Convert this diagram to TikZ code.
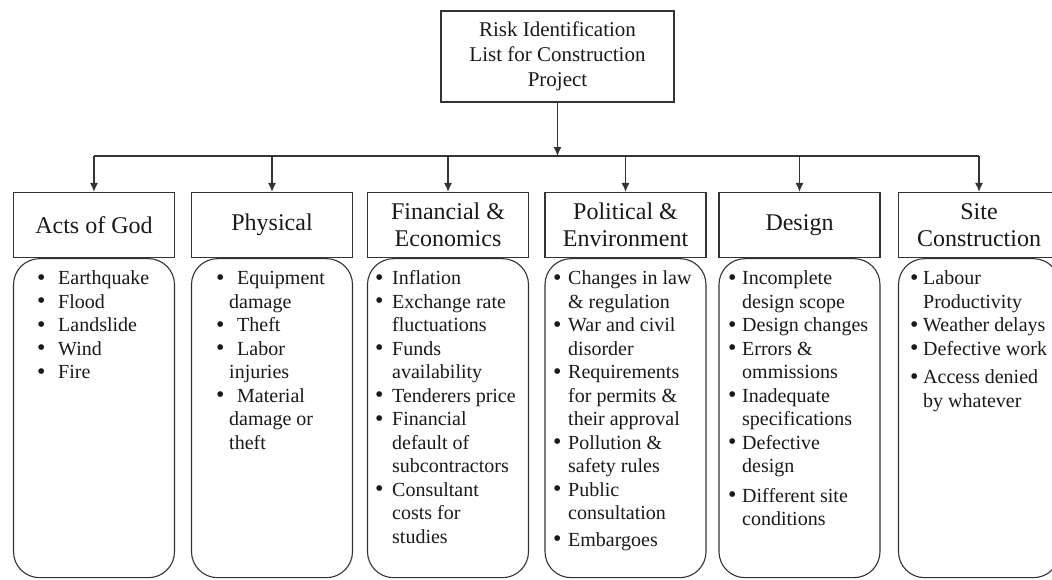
\documentclass[tikz,border=0pt]{standalone}
\usepackage{fontspec}
\usepackage{graphicx}
\setmainfont{Liberation Serif}
\usetikzlibrary{arrows.meta}

\tikzset{
  conn/.style={draw=black!80, line width=1.2pt},
  tip/.style={-{Latex[length=9pt,width=8pt]}},
  root/.style={draw=black!80, line width=1.2pt, minimum width=233pt, minimum height=91pt,
    align=center, inner sep=0pt, text=black!90, font=\fontsize{21}{25}\selectfont},
  hdr/.style={draw=black!80, line width=1.2pt, minimum width=161pt, minimum height=65pt,
    align=center, inner sep=0pt, text=black!90, font=\fontsize{24}{27}\selectfont},
  lbox/.style={draw=black!80, line width=1.1pt, rounded corners=26pt,
    minimum width=161pt, minimum height=319pt, anchor=north},
  lst/.style={anchor=north west, inner sep=0pt, text=black!90,
    font=\fontsize{20}{23.5}\selectfont},
}
\newcommand{\risklist}[2]{\begin{tabular}{@{}p{#1}@{}l@{}}#2\end{tabular}}
\newcommand{\bul}{\raisebox{-0.6pt}{\scalebox{1.2}{\textbullet}}}

\begin{document}
\begin{tikzpicture}[x=1pt, y=-1pt]
  \useasboundingbox (0,0) rectangle (1052,579);

  % Top box
  \node[root] (risk) at (557.5,56.5) {Risk Identification\\List for Construction\\Project};

  % Headers
  \node[hdr] (god)  at (94,225)    {Acts of God};
  \node[hdr] (phys) at (272,225)   {Physical};
  \node[hdr] (fin)  at (448,225)   {Financial \&\\Economics};
  \node[hdr] (pol)  at (625.5,225) {Political \&\\Environment};
  \node[hdr] (des)  at (799.5,225) {Design};
  \node[hdr] (site) at (979,225)   {Site\\Construction};

  % Rounded boxes
  \foreach \n in {god,phys,fin,pol,des,site}
    \node[lbox] (\n b) at (\n.south) {};

  % Lists
  \node[lst] (godl) at (37,268) {\risklist{21pt}{%
    \bul & Earthquake\\ \bul & Flood\\ \bul & Landslide\\
    \bul & Wind\\ \bul & Fire}};
  \node[lst] (physl) at (216,268) {\risklist{13pt}{%
    \bul & \hspace{8pt}Equipment\\ & damage\\
    \bul & \hspace{8pt}Theft\\
    \bul & \hspace{8pt}Labor\\ & injuries\\
    \bul & \hspace{8pt}Material\\ & damage or\\ & theft}};
  \node[lst] (finl) at (375,268) {\risklist{17pt}{%
    \bul & Inflation\\
    \bul & Exchange rate\\ & fluctuations\\
    \bul & Funds\\ & availability\\
    \bul & Tenderers price\\
    \bul & Financial\\ & default of\\ & subcontractors\\
    \bul & Consultant\\ & costs for\\ & studies}};
  \node[lst] (poll) at (553,268) {\risklist{15pt}{%
    \bul & Changes in law\\ & \& regulation\\
    \bul & War and civil\\ & disorder\\
    \bul & Requirements\\ & for permits \&\\ & their approval\\
    \bul & Pollution \&\\ & safety rules\\
    \bul & Public\\ & consultation\\[3pt]
    \bul & Embargoes}};
  \node[lst] (desl) at (728,268) {\risklist{14pt}{%
    \bul & Incomplete\\ & design scope\\
    \bul & Design changes\\
    \bul & Errors \&\\ & ommissions\\
    \bul & Inadequate\\ & specifications\\
    \bul & Defective\\ & design\\[6pt]
    \bul & Different site\\ & conditions}};
  \node[lst] (sitel) at (910,268) {\risklist{13pt}{%
    \bul & Labour\\ & Productivity\\
    \bul & Weather delays\\
    \bul & Defective work\\[5pt]
    \bul & Access denied\\ & by whatever}};

  % Arrows
  \coordinate (bus) at (557.5,156);
  \draw[conn,tip] (risk.south) -- (bus);
  \draw[conn] (god.north |- bus) -- (site.north |- bus);
  \foreach \n in {god,phys,fin,pol,des,site}
    \draw[conn,tip] (\n.north |- bus) -- (\n.north);
\end{tikzpicture}
\end{document}
